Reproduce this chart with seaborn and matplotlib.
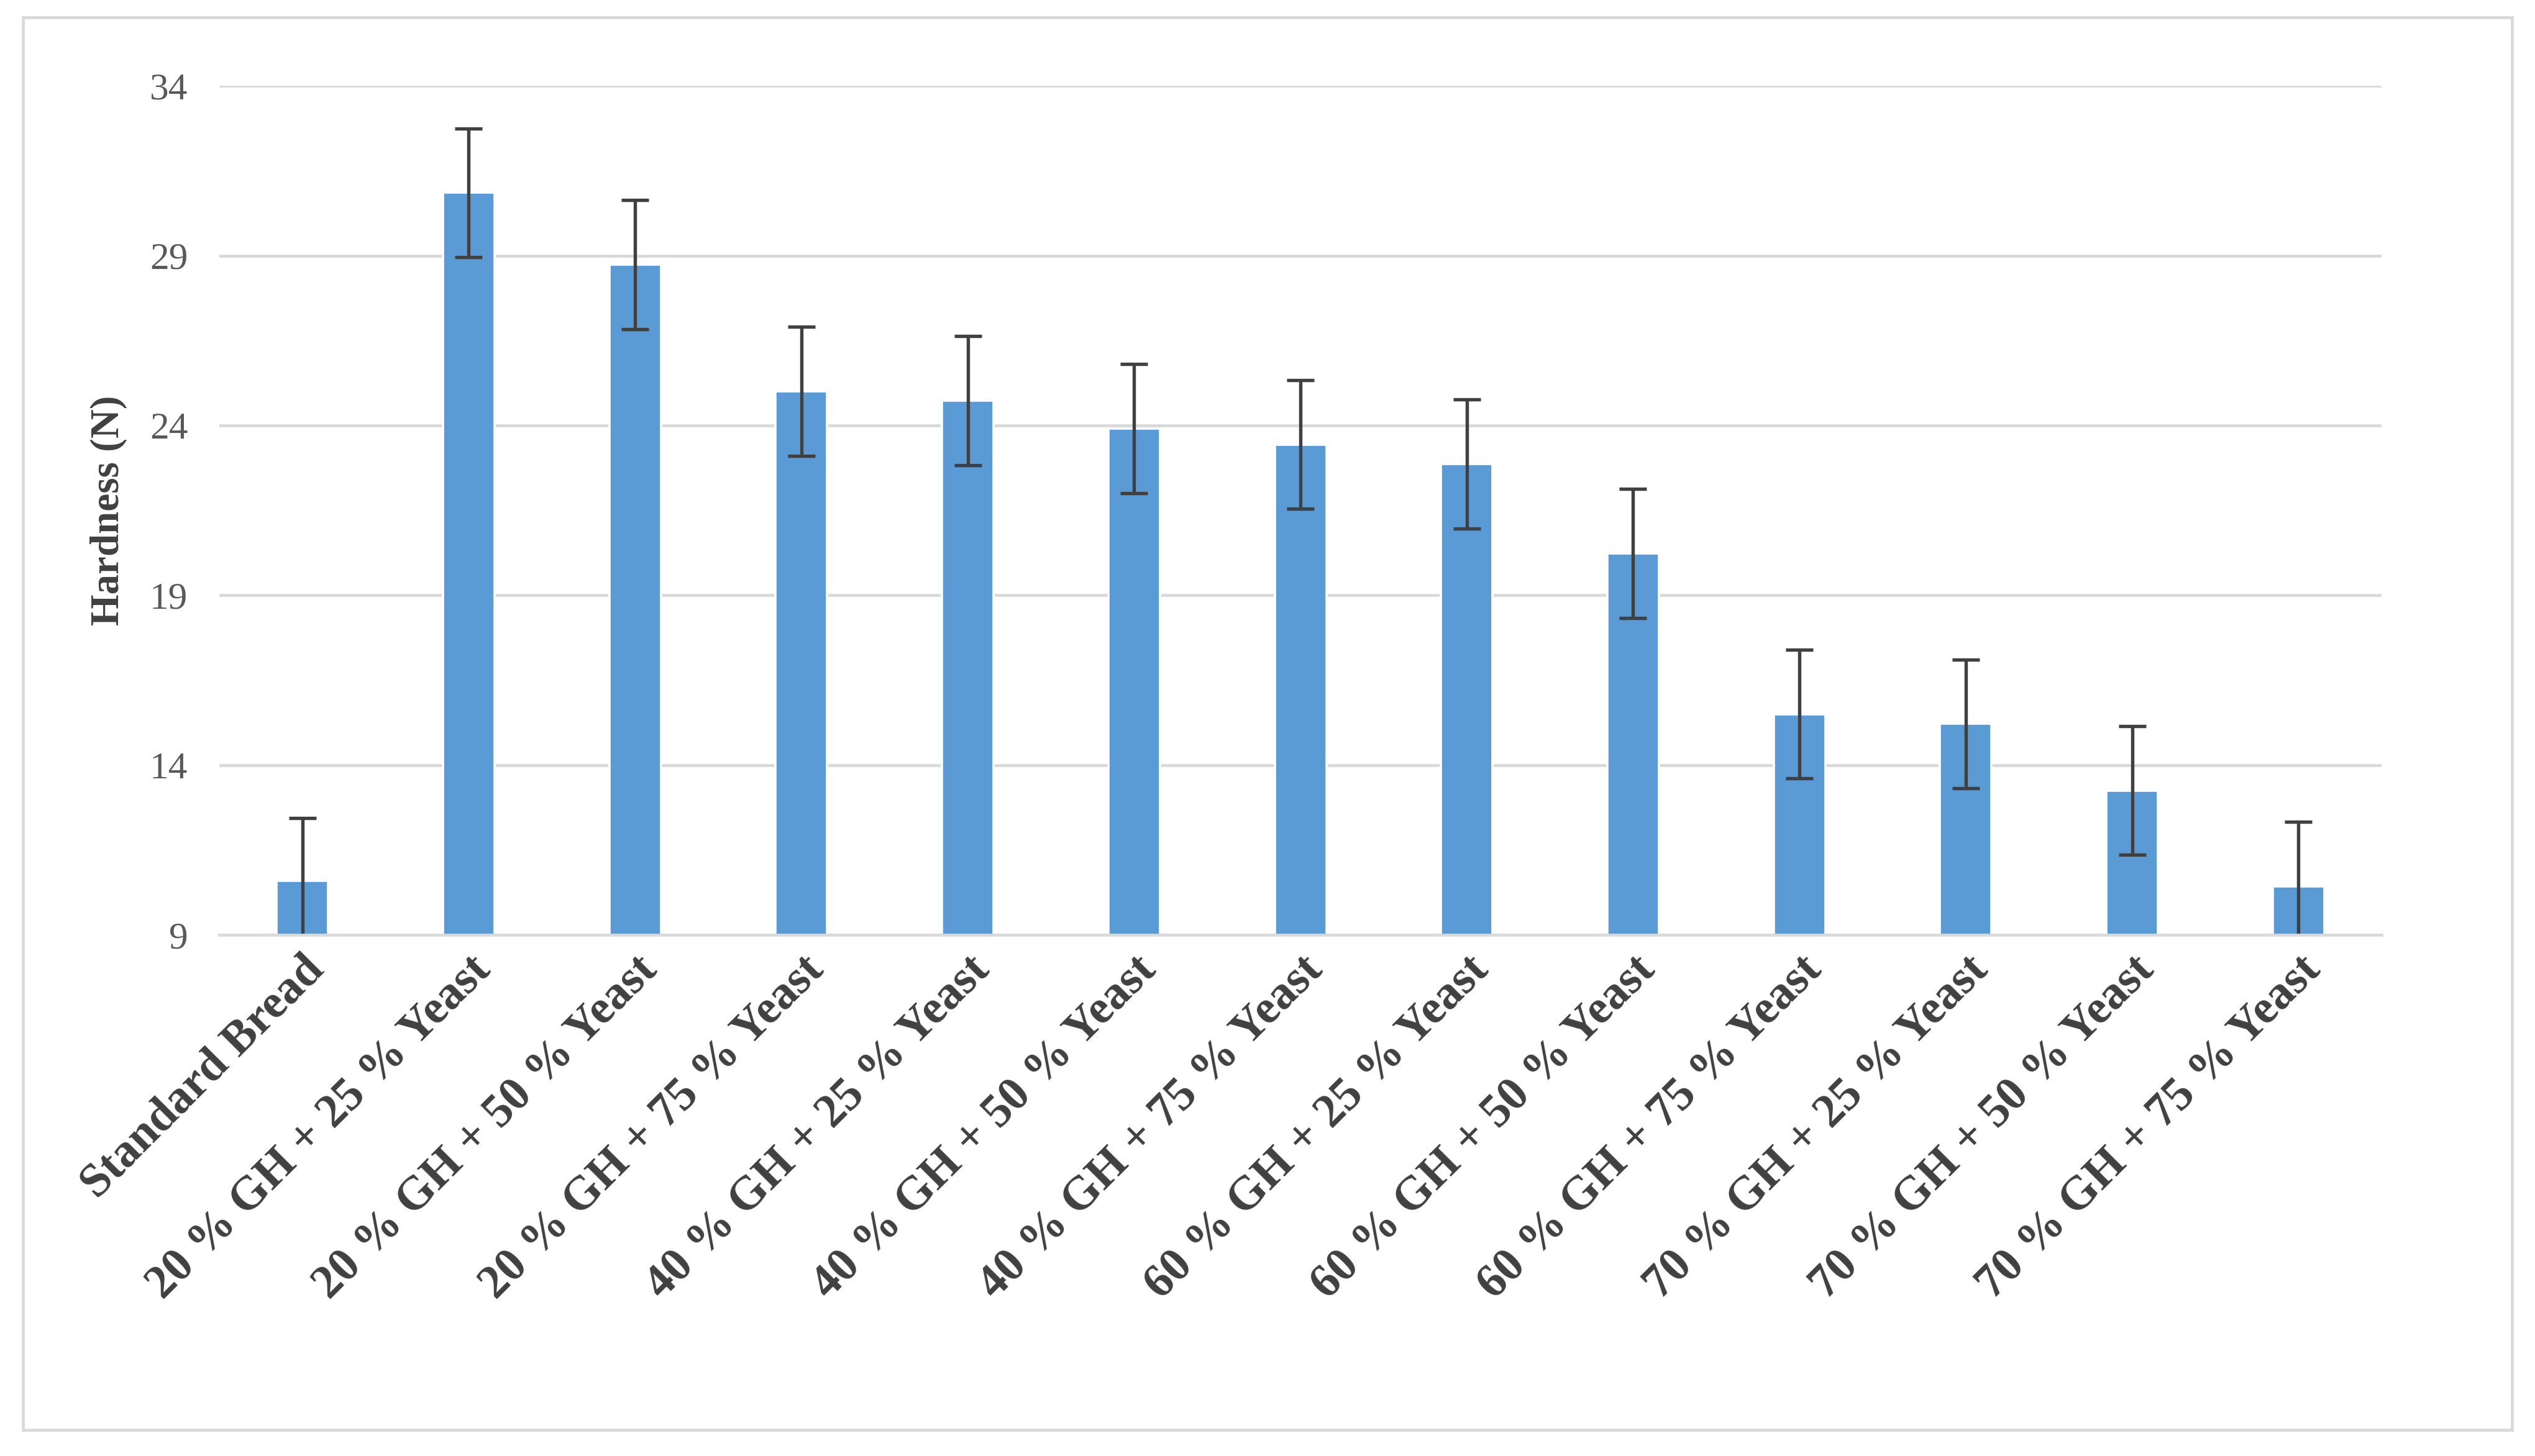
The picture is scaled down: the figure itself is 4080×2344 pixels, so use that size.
import matplotlib
matplotlib.use("Agg")
import matplotlib.pyplot as plt
import seaborn as sns
import pandas as pd
import numpy as np

categories = ["Standard Bread",
              "20 % GH + 25 % Yeast", "20 % GH + 50 % Yeast", "20 % GH + 75 % Yeast",
              "40 % GH + 25 % Yeast", "40 % GH + 50 % Yeast", "40 % GH + 75 % Yeast",
              "60 % GH + 25 % Yeast", "60 % GH + 50 % Yeast", "60 % GH + 75 % Yeast",
              "70 % GH + 25 % Yeast", "70 % GH + 50 % Yeast", "70 % GH + 75 % Yeast"]
hardness = [10.58, 30.85, 28.74, 25.01, 24.73, 23.91, 23.44, 22.86, 20.23, 15.50, 15.21, 13.25, 10.43]
errors = [1.86, 1.9, 1.9, 1.9, 1.9, 1.9, 1.9, 1.9, 1.9, 1.9, 1.9, 1.9, 1.9]
yticks = [9, 14, 19, 24, 29, 34]

sns.set_theme(style="white")
plt.rcParams['font.family'] = ['Liberation Serif', 'DejaVu Serif']

df = pd.DataFrame({"cat": categories, "h": hardness})
fig = plt.figure(figsize=(4080/260, 2344/260), dpi=260)
ax = fig.add_axes([0.0865, 0.358, 0.853, 0.583])
sns.barplot(data=df, x="cat", y="h", color="#5B9BD5", width=0.31, ax=ax, saturation=1)
x = np.arange(len(categories))
ax.errorbar(x, hardness, yerr=errors, fmt="none", ecolor="#404040", elinewidth=1.5, capsize=6, capthick=1.5, clip_on=True)
ax.set_ylim(9, 34)
ax.set_yticks(yticks)
ax.set_xlim(-0.5, len(categories) - 0.5)
ax.yaxis.grid(True, color="#D9D9D9", linewidth=1.3)
ax.set_axisbelow(True)
for s in ["top", "right", "left"]:
    ax.spines[s].set_visible(False)
ax.spines["bottom"].set_color("#D9D9D9")
ax.spines["bottom"].set_linewidth(1.3)
ax.set_xlabel("")
ax.set_ylabel("Hardness (N)", fontsize=18, fontweight="bold", color="#404040", labelpad=10)
ax.tick_params(axis="y", labelsize=17, labelcolor="#595959", length=0, pad=14)
ax.tick_params(axis="x", length=0, pad=6)
ax.set_xticks(x)
ax.set_xticklabels(categories, rotation=45, ha="right", rotation_mode="anchor",
                   fontsize=21, fontweight="bold", color="#404040")
border = plt.Rectangle((0.009, 0.018), 0.982, 0.97, transform=fig.transFigure,
                       fill=False, edgecolor="#D9D9D9", linewidth=1.3)
fig.patches.append(border)
fig.savefig("out.png", dpi=260)
